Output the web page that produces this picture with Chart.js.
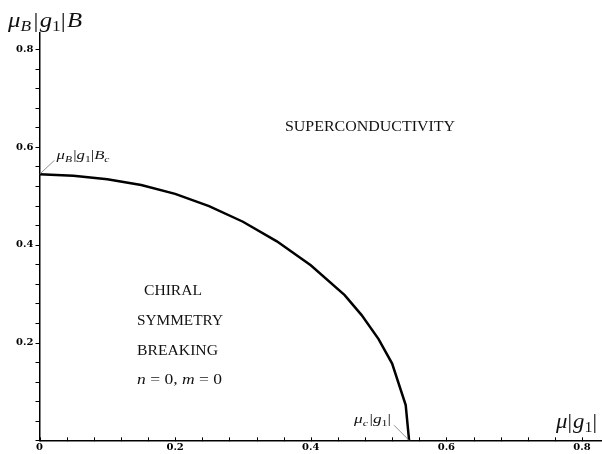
<!DOCTYPE html>
<html>
<head>
<meta charset="utf-8">
<script src="https://cdn.jsdelivr.net/npm/chart.js@4.4.0/dist/chart.umd.min.js"></script>
<style>
html, body { margin: 0; padding: 0; background: #fff; }
#wrap { width: 602px; height: 454px; position: relative; }
</style>
</head>
<body>
<div id="wrap"><canvas id="phase"></canvas></div>
<script>
// phase boundary
const mu = [0, 0.05, 0.10, 0.15, 0.20, 0.25, 0.30, 0.35, 0.40, 0.45, 0.475, 0.50, 0.52, 0.54, 0.545];
const bField = [0.544, 0.541, 0.534, 0.522, 0.504, 0.479, 0.447, 0.407, 0.358, 0.297, 0.256, 0.207, 0.157, 0.072, 0];
const majorTicks = [0, 0.2, 0.4, 0.6, 0.8];
const tickLabels = ['0', '0.2', '0.4', '0.6', '0.8'];
const minorStep = 0.04;
const muC = 0.545, bC = 0.544;

const serif = '"Liberation Serif", "Times New Roman", serif';
const it = s => 'italic ' + s + 'px ' + serif;
const up = s => s + 'px ' + serif;

function majorIndex(v) {
  return majorTicks.findIndex(t => Math.abs(t - v) < 1e-6);
}

// draw text pieces in a row, stretched to a given width
function drawRun(ctx, parts, x, y, width) {
  let total = 0;
  parts.forEach(p => {
    ctx.font = p.font;
    p.w = ctx.measureText(p.t).width + (p.gap || 0);
    total += p.w;
  });
  const k = width ? width / total : 1;
  ctx.save();
  ctx.translate(x, y);
  ctx.scale(k, 1);
  let cx = 0;
  parts.forEach(p => {
    ctx.font = p.font;
    ctx.fillText(p.t, cx, p.dy || 0);
    cx += p.w;
  });
  ctx.restore();
}

const decor = {
  id: 'decor',
  afterDraw(chart) {
    const ctx = chart.ctx;
    const xs = chart.scales.x, ys = chart.scales.y;
    const x0 = xs.getPixelForValue(0), y0 = ys.getPixelForValue(0);

    // tick marks
    ctx.save();
    ctx.strokeStyle = '#000';
    ctx.lineWidth = 1;
    xs.ticks.forEach(t => {
      const px = Math.round(xs.getPixelForValue(t.value)) + 0.5;
      ctx.beginPath(); ctx.moveTo(px, y0 - 3); ctx.lineTo(px, y0 + 1); ctx.stroke();
    });
    ys.ticks.forEach(t => {
      const py = Math.round(ys.getPixelForValue(t.value)) + 0.5;
      ctx.beginPath(); ctx.moveTo(x0 - 4, py); ctx.lineTo(x0, py); ctx.stroke();
    });

    // leader lines
    ctx.strokeStyle = '#777';
    ctx.lineWidth = 0.8;
    const ax = xs.getPixelForValue(0), ay = ys.getPixelForValue(bC);
    ctx.beginPath(); ctx.moveTo(ax, ay); ctx.lineTo(ax + 15, ay - 14); ctx.stroke();
    const cxp = xs.getPixelForValue(muC), cyp = ys.getPixelForValue(0);
    ctx.beginPath(); ctx.moveTo(cxp, cyp); ctx.lineTo(cxp - 15, cyp - 15); ctx.stroke();

    ctx.fillStyle = '#111';
    ctx.textBaseline = 'alphabetic';

    // axis titles
    drawRun(ctx, [
      { t: 'μ', font: it(20) }, { t: 'B', font: it(14), dy: 4, gap: 2 },
      { t: '|', font: up(20), gap: 1 }, { t: 'g', font: it(20) }, { t: '1', font: up(14), dy: 4 },
      { t: '|', font: up(20), gap: 1 }, { t: 'B', font: it(20) }
    ], 8, 27, 74);
    drawRun(ctx, [
      { t: 'μ', font: it(20) }, { t: '|', font: up(20), gap: 1 },
      { t: 'g', font: it(20) }, { t: '1', font: up(14), dy: 4 }, { t: '|', font: up(20) }
    ], 556, 428, 41);

    // critical point labels
    drawRun(ctx, [
      { t: 'μ', font: it(13) }, { t: 'B', font: it(9), dy: 3, gap: 1 },
      { t: '|', font: up(13) }, { t: 'g', font: it(13) }, { t: '1', font: up(9), dy: 3 },
      { t: '|', font: up(13) }, { t: 'B', font: it(13) }, { t: 'c', font: it(9), dy: 3 }
    ], ax + 17, ay - 15, 53);
    drawRun(ctx, [
      { t: 'μ', font: it(13) }, { t: 'c', font: it(9), dy: 3, gap: 1 },
      { t: '|', font: up(13) }, { t: 'g', font: it(13) }, { t: '1', font: up(9), dy: 3 },
      { t: '|', font: up(13) }
    ], cxp - 55, cyp - 17, 37);

    // region labels
    drawRun(ctx, [{ t: 'SUPERCONDUCTIVITY', font: up(15) }], 285, 131, 170);
    drawRun(ctx, [{ t: 'CHIRAL', font: up(15) }], 144, 295, 58);
    drawRun(ctx, [{ t: 'SYMMETRY', font: up(15) }], 137, 325, 86);
    drawRun(ctx, [{ t: 'BREAKING', font: up(15) }], 137, 355, 81);
    drawRun(ctx, [
      { t: 'n', font: it(15) }, { t: ' = 0, ', font: up(15) },
      { t: 'm', font: it(15) }, { t: ' = 0', font: up(15) }
    ], 137, 384, 85);
    ctx.restore();
  }
};

const tickFont = { family: '"DejaVu Serif", serif', size: 10, weight: 'bold' };

new Chart(document.getElementById('phase'), {
  type: 'line',
  data: {
    datasets: [{
      data: mu.map((m, i) => ({ x: m, y: bField[i] })),
      borderColor: '#000',
      borderWidth: 2.5,
      pointRadius: 0,
      tension: 0,
      fill: false
    }]
  },
  options: {
    responsive: true,
    maintainAspectRatio: false,
    animation: false,
    layout: { padding: { left: 0, top: 33, right: 1, bottom: 0 } },
    plugins: { legend: { display: false }, tooltip: { enabled: false } },
    scales: {
      x: {
        type: 'linear',
        min: 0,
        max: 0.828,
        afterFit: s => { s.height = 13.7; },
        grid: { display: true, drawOnChartArea: false, drawTicks: false },
        border: { display: true, color: '#000', width: 1.5 },
        ticks: {
          stepSize: minorStep,
          includeBounds: false,
          autoSkip: false,
          maxRotation: 0,
          padding: 1,
          color: '#000',
          font: tickFont,
          callback: v => { const i = majorIndex(v); return i >= 0 ? tickLabels[i] : ''; }
        }
      },
      y: {
        type: 'linear',
        min: 0,
        max: 0.833,
        afterFit: s => { s.width = 39.5; },
        grid: { display: true, drawOnChartArea: false, drawTicks: false },
        border: { display: true, color: '#000', width: 1.5 },
        ticks: {
          stepSize: minorStep,
          includeBounds: false,
          autoSkip: false,
          padding: 6,
          color: '#000',
          font: tickFont,
          callback: v => { const i = majorIndex(v); return i > 0 ? tickLabels[i] : ''; }
        }
      }
    }
  },
  plugins: [decor]
});
</script>
</body>
</html>
